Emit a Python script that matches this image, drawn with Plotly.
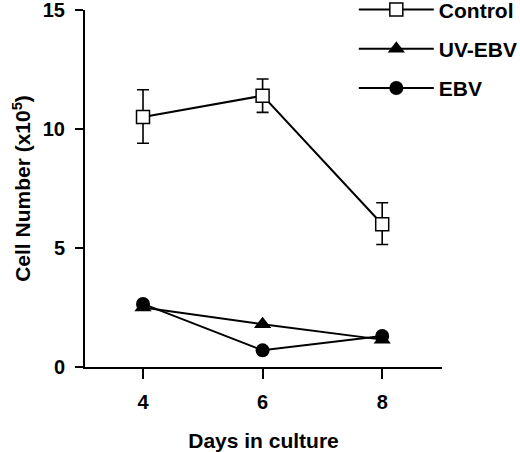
import plotly.graph_objects as go

# cell counts (x10^5)
days = [4, 6, 8]
control = [10.5, 11.4, 6.0]
control_err_up = [1.15, 0.7, 0.9]
control_err_down = [1.1, 0.7, 0.85]
uv_ebv = [2.5, 1.8, 1.15]
ebv = [2.65, 0.7, 1.3]

FONT = 'Liberation Sans, Arial, Helvetica, sans-serif'

fig = go.Figure()

fig.add_trace(go.Scatter(
    x=days, y=control, name='Control', legendgroup='control', mode='lines+markers',
    line=dict(color='black', width=2),
    marker=dict(symbol='square', size=13, color='white', line=dict(color='black', width=1.5)),
    error_y=dict(type='data', symmetric=False, array=control_err_up, arrayminus=control_err_down,
                 color='black', thickness=1.6, width=6),
))
fig.add_trace(go.Scatter(
    x=days, y=uv_ebv, name='UV-EBV', legendgroup='uv', mode='lines+markers',
    line=dict(color='black', width=2),
    marker=dict(symbol='triangle-up', size=15, color='black'),
))
fig.add_trace(go.Scatter(
    x=days, y=ebv, name='EBV', legendgroup='ebv', mode='lines+markers',
    line=dict(color='black', width=2),
    marker=dict(symbol='circle', size=14, color='black'),
))

fig.update_layout(
    width=520, height=452,
    margin=dict(l=85, r=78, t=10, b=85, autoexpand=False),
    paper_bgcolor='white', plot_bgcolor='white',
    font=dict(family=FONT, size=16, color='black'),
    showlegend=True,
    legend=dict(
        x=0.753, y=1.058, xanchor='left', yanchor='top',
        font=dict(family=FONT, size=21, color='black', weight='bold'),
        itemwidth=75, tracegroupgap=9, bgcolor='rgba(0,0,0,0)',
    ),
    xaxis=dict(
        range=[3.03, 9], tickvals=days, ticks='outside', ticklen=10, tickwidth=1.6, tickcolor='black',
        showline=True, linecolor='black', linewidth=2, showgrid=False, zeroline=False,
        automargin=False, ticklabeloverflow='allow',
        tickfont=dict(size=20, weight='bold'), ticklabelstandoff=6,
        title=dict(text='Days in culture', font=dict(size=21, weight='bold'), standoff=21),
    ),
    yaxis=dict(
        range=[0, 15], tickvals=[0, 5, 10, 15], ticks='outside', ticklen=8, tickwidth=1.6, tickcolor='black',
        showline=True, linecolor='black', linewidth=2, showgrid=False, zeroline=False,
        automargin=False, ticklabeloverflow='allow',
        tickfont=dict(size=20, weight='bold'), ticklabelstandoff=6,
        title=dict(text='Cell Number (x10<sup>5</sup>)', font=dict(size=21, weight='bold'), standoff=6),
    ),
)

# the page's default body margin would shift the figure by 8px
fig.write_html("out.html", config={'displayModeBar': False},
               post_script="document.body.style.margin = '0';")
